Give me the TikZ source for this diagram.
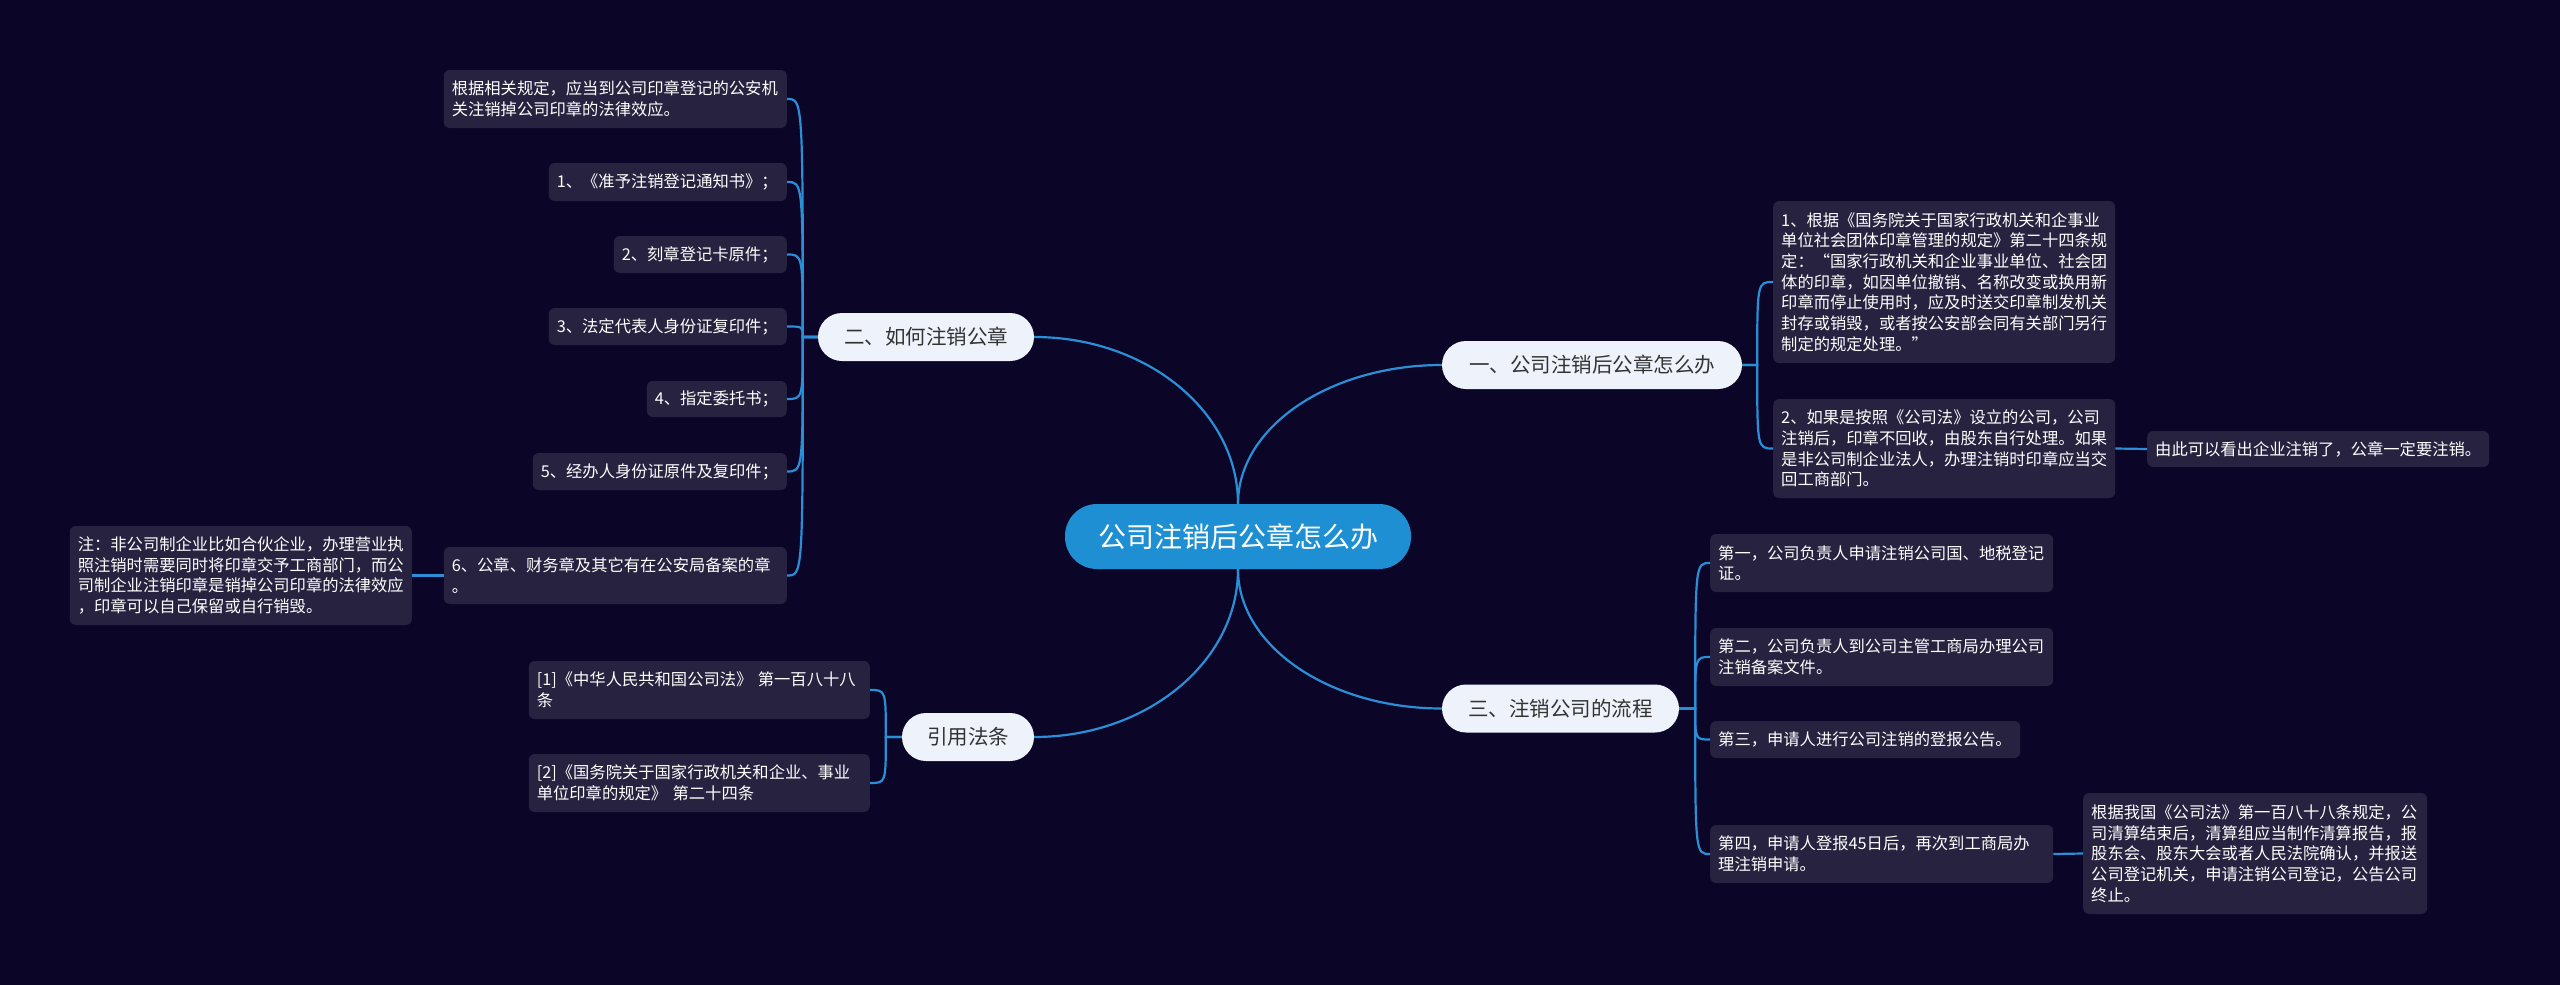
\documentclass[tikz,border=0pt]{standalone}
\usepackage{fontspec}
\setmainfont{Noto Sans CJK SC}
\usetikzlibrary{calc}
\definecolor{bg}{HTML}{0B0628}
\definecolor{leafc}{HTML}{27223F}
\definecolor{linkc}{HTML}{2A8FD6}
\definecolor{mainc}{HTML}{1E8FD3}
\definecolor{branchc}{HTML}{EEF3FB}
\definecolor{btext}{HTML}{333333}
\newcommand\mmlink[3]{\draw[link] (#1) -- (#2) .. controls (#2 |- #3) and (#2 |- #3) .. (#3);}
\begin{document}
\begin{tikzpicture}[x=1pt,y=-1pt,
  link/.style={draw=linkc, line width=2.2pt},
  leafbox/.style={fill=leafc, rounded corners=6pt, inner xsep=8pt, inner ysep=2pt, align=left, text=white, font=\fontsize{16.3}{20.7}\selectfont},
  branchbox/.style={fill=branchc, rounded corners=24pt, text=btext, font=\fontsize{20.5}{24}\selectfont, minimum height=48pt, inner sep=0pt},
  mainbox/.style={fill=mainc, rounded corners=32pt, text=white, font=\fontsize{28}{32}\selectfont, minimum height=65pt, minimum width=346pt, inner sep=0pt}
]
\fill[bg] (0,0) rectangle (2560,985);
\useasboundingbox (0,0) rectangle (2560,985);

% central and branch nodes
\node[mainbox] (main) at (1238,536.5) {公司注销后公章怎么办};
\node[branchbox, minimum width=216pt] (b2) at (926,337) {二、如何注销公章};
\node[branchbox, minimum width=300pt] (b1) at (1592,365) {一、公司注销后公章怎么办};
\node[branchbox, minimum width=237pt] (b3) at (1560.5,708.5) {三、注销公司的流程};
\node[branchbox, minimum width=132pt] (b4) at (968,737) {引用法条};

% left leaves of 二
\node[leafbox, anchor=east, text width=327pt, minimum height=58pt] (l0) at (787,99) {根据相关规定，应当到公司印章登记的公安机\\关注销掉公司印章的法律效应。};
\node[leafbox, anchor=east, text width=222pt, minimum height=38pt] (l1) at (787,182) {1、《准予注销登记通知书》；};
\node[leafbox, anchor=east, text width=157pt, minimum height=37pt] (l2) at (787,254.5) {2、刻章登记卡原件；};
\node[leafbox, anchor=east, text width=222pt, minimum height=37pt] (l3) at (787,326.5) {3、法定代表人身份证复印件；};
\node[leafbox, anchor=east, text width=124pt, minimum height=36pt] (l4) at (787,399) {4、指定委托书；};
\node[leafbox, anchor=east, text width=238pt, minimum height=37pt] (l5) at (787,471.5) {5、经办人身份证原件及复印件；};
\node[leafbox, anchor=east, text width=327pt, minimum height=57pt] (l6) at (787,575.5) {6、公章、财务章及其它有在公安局备案的章\\。};
\node[leafbox, anchor=east, text width=326pt, minimum height=99pt] (note) at (412,575.5) {注：非公司制企业比如合伙企业，办理营业执\\照注销时需要同时将印章交予工商部门，而公\\司制企业注销印章是销掉公司印章的法律效应\\，印章可以自己保留或自行销毁。};

% leaves of 引用法条
\node[leafbox, anchor=east, text width=325pt, minimum height=58pt] (r1) at (870,690) {[1]《中华人民共和国公司法》 第一百八十八\\条};
\node[leafbox, anchor=east, text width=325pt, minimum height=58pt] (r2) at (870,783) {[2]《国务院关于国家行政机关和企业、事业\\单位印章的规定》 第二十四条};

% leaves of 一
\node[leafbox, anchor=west, text width=326pt, minimum height=162pt] (a1) at (1773,282) {1、根据《国务院关于国家行政机关和企事业\\单位社会团体印章管理的规定》第二十四条规\\定：“国家行政机关和企业事业单位、社会团\\体的印章，如因单位撤销、名称改变或换用新\\印章而停止使用时，应及时送交印章制发机关\\封存或销毁，或者按公安部会同有关部门另行\\制定的规定处理。”};
\node[leafbox, anchor=west, text width=326pt, minimum height=99pt] (a2) at (1773,448.5) {2、如果是按照《公司法》设立的公司，公司\\注销后，印章不回收，由股东自行处理。如果\\是非公司制企业法人，办理注销时印章应当交\\回工商部门。};
\node[leafbox, anchor=west, text width=326pt, minimum height=36pt] (a3) at (2147,449) {由此可以看出企业注销了，公章一定要注销。};

% leaves of 三
\node[leafbox, anchor=west, text width=327pt, minimum height=58pt] (c1) at (1710,563) {第一，公司负责人申请注销公司国、地税登记\\证。};
\node[leafbox, anchor=west, text width=327pt, minimum height=58pt] (c2) at (1710,657) {第二，公司负责人到公司主管工商局办理公司\\注销备案文件。};
\node[leafbox, anchor=west, text width=294pt, minimum height=37pt] (c3) at (1710,739.5) {第三，申请人进行公司注销的登报公告。};
\node[leafbox, anchor=west, text width=327pt, minimum height=58pt] (c4) at (1710,854) {第四，申请人登报45日后，再次到工商局办\\理注销申请。};
\node[leafbox, anchor=west, text width=328pt, minimum height=121pt] (c5) at (2083,853.5) {根据我国《公司法》第一百八十八条规定，公\\司清算结束后，清算组应当制作清算报告，报\\股东会、股东大会或者人民法院确认，并报送\\公司登记机关，申请注销公司登记，公告公司\\终止。};

% central curves
\coordinate (k2) at (main.north |- b2.east);
\coordinate (k1) at (main.north |- b1.west);
\coordinate (k3) at (main.south |- b3.west);
\coordinate (k4) at (main.south |- b4.east);
\draw[link] (main.north) .. controls ($(main.north)!0.552!(k2)$) and ($(b2.east)!0.552!(k2)$) .. (b2.east);
\draw[link] (main.north) .. controls ($(main.north)!0.552!(k1)$) and ($(b1.west)!0.552!(k1)$) .. (b1.west);
\draw[link] (main.south) .. controls ($(main.south)!0.552!(k3)$) and ($(b3.west)!0.552!(k3)$) .. (b3.west);
\draw[link] (main.south) .. controls ($(main.south)!0.552!(k4)$) and ($(b4.east)!0.552!(k4)$) .. (b4.east);

% branch trunk coordinates
\coordinate (b2m) at ([xshift=-15pt]b2.west);
\coordinate (b1m) at ([xshift=15pt]b1.east);
\coordinate (b3m) at ([xshift=16pt]b3.east);
\coordinate (b4m) at ([xshift=-16pt]b4.west);

\mmlink{b2.west}{b2m}{l0.east}
\mmlink{b2.west}{b2m}{l1.east}
\mmlink{b2.west}{b2m}{l2.east}
\mmlink{b2.west}{b2m}{l3.east}
\mmlink{b2.west}{b2m}{l4.east}
\mmlink{b2.west}{b2m}{l5.east}
\mmlink{b2.west}{b2m}{l6.east}
\draw[link] (l6.west) -- (note.east);

\mmlink{b4.west}{b4m}{r1.east}
\mmlink{b4.west}{b4m}{r2.east}

\mmlink{b1.east}{b1m}{a1.west}
\mmlink{b1.east}{b1m}{a2.west}
\draw[link] (a2.east) -- (a3.west);

\mmlink{b3.east}{b3m}{c1.west}
\mmlink{b3.east}{b3m}{c2.west}
\mmlink{b3.east}{b3m}{c3.west}
\mmlink{b3.east}{b3m}{c4.west}
\draw[link] (c4.east) -- (c5.west);
\end{tikzpicture}
\end{document}
